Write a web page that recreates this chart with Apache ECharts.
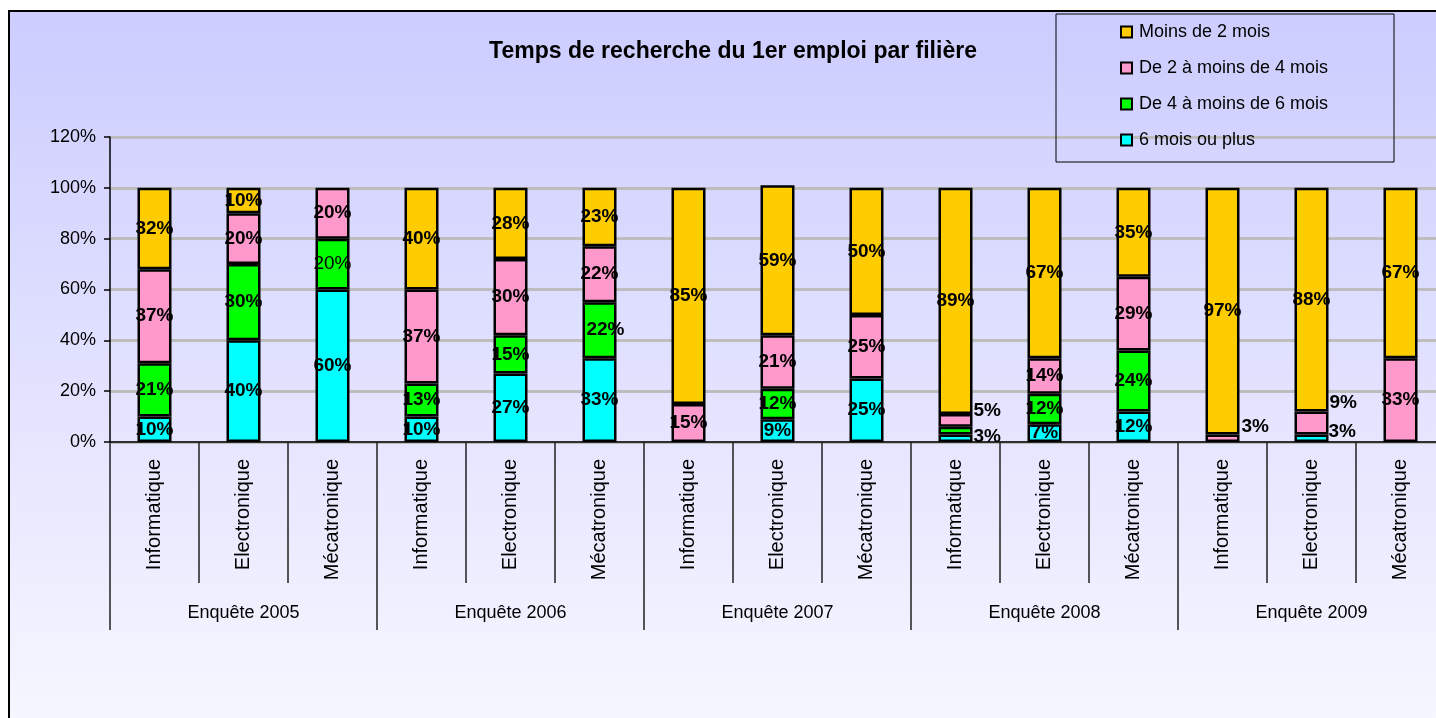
<!DOCTYPE html>
<html>
<head>
<meta charset="utf-8">
<style>
  html, body { margin: 0; padding: 0; background: #ffffff; overflow: hidden; }
  #chart { width: 1460px; height: 718px; }
</style>
<script src="https://cdn.jsdelivr.net/npm/echarts@6/dist/echarts.min.js"></script>
</head>
<body>
<div id="chart"></div>
<script>
// ---- Data ----
const filieres = ['Informatique', 'Electronique', 'Mécatronique',
                  'Informatique', 'Electronique', 'Mécatronique',
                  'Informatique', 'Electronique', 'Mécatronique',
                  'Informatique', 'Electronique', 'Mécatronique',
                  'Informatique', 'Electronique', 'Mécatronique'];
const enquetes = ['Enquête 2005', 'Enquête 2006', 'Enquête 2007', 'Enquête 2008', 'Enquête 2009'];
const seriesNames = ['Moins de 2 mois', 'De 2 à moins de 4 mois', 'De 4 à moins de 6 mois', '6 mois ou plus'];
const moins2 = [32, 10, 0, 40, 28, 23, 85, 59, 50, 89, 67, 35, 97, 88, 67];
const de2a4  = [37, 20, 20, 37, 30, 22, 15, 21, 25, 5, 14, 29, 3, 9, 33];
const de4a6  = [21, 30, 20, 13, 15, 22, 0, 12, 0, 3, 12, 24, 0, 0, 0];
const plus6  = [10, 40, 60, 10, 27, 33, 0, 9, 25, 3, 7, 12, 0, 3, 0];
const yTicks = [0, 20, 40, 60, 80, 100, 120];

// ---- Styles ----
const FONT = 'Liberation Sans, Arial, sans-serif';
const colors = { moins2: '#FFCC00', de2a4: '#FF99CC', de4a6: '#00FF00', plus6: '#00FFFF' };

// label tweaks: key = seriesKey:index
const labelTweaks = {
  'de2a4:9':  { position: 'right', offset: [0, -10], distance: 1 },
  'plus6:9':  { position: 'right', offset: [0, -1], distance: 1 },
  'de4a6:9':  { show: false },
  'de2a4:12': { position: 'right', offset: [0, -11], distance: 2 },
  'de2a4:13': { position: 'right', offset: [0, -20], distance: 1 },
  'plus6:13': { position: 'right', offset: [0, -6], distance: 0 },
  'de4a6:2':  { fontWeight: 'normal' },
  'de4a6:5':  { offset: [6, 0] }
};

function buildData(key, arr) {
  return arr.map((v, i) => {
    const item = { value: v === 0 ? null : v };
    const t = labelTweaks[key + ':' + i];
    if (t) item.label = Object.assign({}, t);
    return item;
  });
}

function makeSeries(key, name, arr) {
  return {
    name: name,
    type: 'bar',
    stack: 'total',
    barWidth: 34,
    data: buildData(key, arr),
    itemStyle: { color: colors[key], borderColor: '#000', borderWidth: 2.5 },
    label: {
      show: true,
      position: 'inside',
      color: '#000',
      fontFamily: FONT,
      fontWeight: 'bold',
      fontSize: 19,
      formatter: p => (p.value == null ? '' : p.value + '%')
    },
    emphasis: { disabled: true }
  };
}

const chart = echarts.init(document.getElementById('chart'), null, { renderer: 'canvas' });

const option = {
  animation: false,
  backgroundColor: 'transparent',
  textStyle: { fontFamily: FONT },
  graphic: [
    {
      type: 'rect', z: -10, silent: true,
      shape: { x: 9, y: 11, width: 1460, height: 720 },
      style: {
        fill: new echarts.graphic.LinearGradient(0, 0, 0, 1, [
          { offset: 0, color: '#CCCCFF' },
          { offset: 1, color: '#F7F7FF' }
        ]),
        stroke: '#000', lineWidth: 2
      }
    },
    {
      type: 'rect', z: 5, silent: true,
      shape: { x: 1056, y: 14, width: 338, height: 148 },
      style: { fill: 'rgba(0,0,0,0)', stroke: '#000', lineWidth: 1 }
    }
  ],
  title: {
    text: 'Temps de recherche du 1er emploi par filière',
    left: 728, top: 35, textAlign: 'center',
    textStyle: { fontFamily: FONT, fontWeight: 'bold', fontSize: 23, color: '#000' }
  },
  legend: {
    orient: 'vertical',
    left: 1115, top: 18,
    itemWidth: 11, itemHeight: 11,
    itemGap: 18,
    icon: 'rect',
    data: ['Moins de 2 mois', 'De 2 à moins de 4 mois', 'De 4 à moins de 6 mois', '6 mois ou plus'],
    textStyle: { fontFamily: FONT, fontSize: 18, color: '#000', lineHeight: 18, padding: [0, 0, 0, 2] },
    itemStyle: { borderColor: '#000', borderWidth: 2 },
    selectedMode: false
  },
  grid: { left: 110, top: 137, width: 1335, height: 305, containLabel: false },
  xAxis: [
    {
      type: 'category',
      data: filieres,
      position: 'bottom',
      axisLine: { show: true, lineStyle: { color: '#000', width: 1.5 } },
      axisTick: { show: true, interval: 0, length: 141, lineStyle: { color: '#222', width: 1.5 } },
      axisLabel: {
        interval: 0, rotate: 90, margin: 17,
        fontFamily: FONT, fontSize: 20, color: '#000'
      },
      splitLine: { show: false }
    },
    {
      type: 'category',
      data: enquetes,
      position: 'bottom',
      axisLine: { show: false },
      axisTick: { show: true, interval: 0, length: 188, lineStyle: { color: '#222', width: 1.5 } },
      axisLabel: {
        interval: 0, margin: 162,
        fontFamily: FONT, fontSize: 18, color: '#000'
      },
      splitLine: { show: false }
    }
  ],
  yAxis: {
    type: 'value',
    min: yTicks[0], max: yTicks[yTicks.length - 1], interval: 20,
    axisLine: { show: true, lineStyle: { color: '#000', width: 1.5 } },
    axisTick: { show: true, length: 6, lineStyle: { color: '#000', width: 1.5 } },
    axisLabel: { formatter: '{value}%', fontFamily: FONT, fontSize: 18, color: '#000', margin: 14 },
    splitLine: { show: true, lineStyle: { color: '#BDBDBD', width: 3 } }
  },
  series: [
    makeSeries('plus6', seriesNames[3], plus6),
    makeSeries('de4a6', seriesNames[2], de4a6),
    makeSeries('de2a4', seriesNames[1], de2a4),
    makeSeries('moins2', seriesNames[0], moins2)
  ]
};

chart.setOption(option);
</script>
</body>
</html>
